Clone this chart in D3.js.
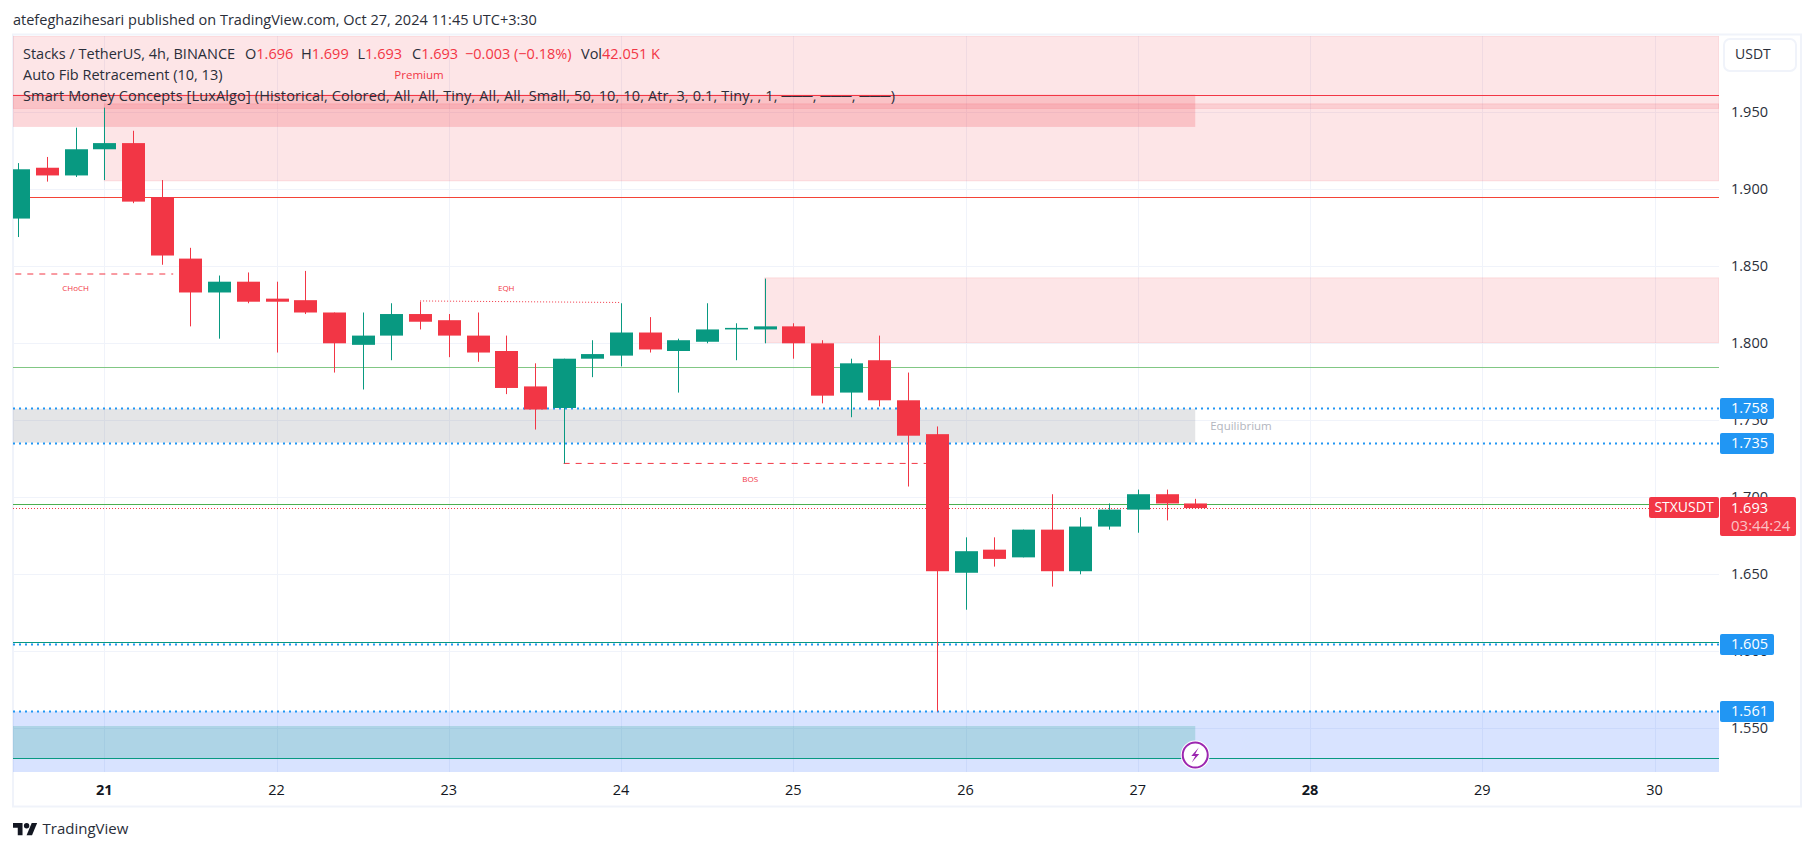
<!DOCTYPE html>
<html>
<head>
<meta charset="utf-8">
<script src="https://d3js.org/d3.v7.min.js"></script>
<style>
  html, body { margin: 0; background: #fff; overflow: hidden; }
  text { font-family: "Open Sans", sans-serif; }
</style>
</head>
<body>
<div id="chart"></div>
<script>
// candles, 4h. t = bars since Oct 21 00:00 (6 bars a day)
var barIdx = d3.range(-3, 39)
var opens  = [1.881,1.914,1.909,1.926,1.930,1.895,1.855,1.833,1.840,1.829,1.828,1.820,1.799,1.805,1.819,1.815,1.805,1.795,1.772,1.758,1.790,1.792,1.807,1.795,1.801,1.809,1.809,1.811,1.800,1.768,1.789,1.763,1.741,1.651,1.666,1.661,1.679,1.652,1.681,1.692,1.702,1.696]
var highs  = [1.917,1.921,1.940,1.953,1.938,1.906,1.862,1.844,1.846,1.840,1.847,1.820,1.820,1.826,1.827,1.819,1.820,1.805,1.787,1.790,1.802,1.826,1.817,1.803,1.826,1.813,1.842,1.813,1.802,1.790,1.805,1.781,1.746,1.674,1.674,1.679,1.702,1.687,1.696,1.705,1.705,1.699]
var lows   = [1.869,1.905,1.908,1.906,1.891,1.851,1.811,1.803,1.826,1.794,1.819,1.781,1.770,1.789,1.809,1.791,1.788,1.767,1.744,1.722,1.778,1.785,1.794,1.768,1.800,1.789,1.800,1.790,1.761,1.752,1.759,1.707,1.561,1.627,1.655,1.661,1.642,1.650,1.679,1.677,1.685,1.693]
var closes = [1.913,1.909,1.926,1.930,1.892,1.857,1.833,1.840,1.827,1.827,1.820,1.800,1.805,1.819,1.814,1.805,1.794,1.771,1.757,1.790,1.793,1.807,1.796,1.802,1.809,1.810,1.811,1.800,1.766,1.787,1.763,1.740,1.652,1.665,1.660,1.679,1.652,1.681,1.692,1.702,1.696,1.693]

var dayTicks = [21,22,23,24,25,26,27,28,29,30]
var boldDays = [21,28]
var priceTicks = [1.95,1.9,1.85,1.8,1.75,1.7,1.65,1.6,1.55]

// smart money levels (prices)
var premiumTop = 1.9995, premiumBottom = 1.9525
var obTop = 1.9555, obBottom = 1.9055
var obBoxTop = 1.9615, obBoxBottom = 1.9405
var ob2Top = 1.8425, ob2Bottom = 1.8005
var eqTop = 1.7575, eqBottom = 1.7355
var discTop = 1.561, discBottom = 1.5205
var dmdTop = 1.5515, dmdBottom = 1.5305
var boxEndBar = 38 // shaded boxes stop at the last candle

var fibLevels = [1.758,1.735,1.605,1.561]
var solidLines = [
  {p: 1.9615, c: '#f23645'},
  {p: 1.895, c: '#f44336'},
  {p: 1.7845, c: '#81c784'},
  {p: 1.6955, c: '#4caf50'},
  {p: 1.606, c: '#089981'},
  {p: 1.5305, c: '#089981'}
]
var lastPrice = 1.693

var legendTitle = 'Stacks / TetherUS, 4h, BINANCE'
var legendOHLC = [['O','1.696',245],['H','1.699',301],['L','1.693',357.5],['C','1.693',412]]
var legendChange = '−0.003 (−0.18%)'
var legendVol = '42.051 K'
var legendFib = 'Auto Fib Retracement (10, 13)'
var legendSmc = 'Smart Money Concepts [LuxAlgo] (Historical, Colored, All, All, Tiny, All, All, Small, 50, 10, 10, Atr, 3, 0.1, Tiny, , 1, ───, ───, ───)'

var W = 1814, H = 851
var plot = {left: 13, right: 1719, top: 36, bottom: 772}

var svg = d3.select('#chart').append('svg').attr('width', W).attr('height', H)
  .style('display', 'block')

// y: 1.700 sits at 497.3, 77px per 0.05
var y = d3.scaleLinear().domain([1.7, 1.5]).range([497.3, 805.3])
// x in bars, 28.71px each, bar 0 (Oct 21) at 104.3
var x = d3.scaleLinear().domain([0, 54]).range([104.3, 1654.6])

svg.append('clipPath').attr('id', 'plotclip').append('rect')
  .attr('x', plot.left).attr('y', plot.top)
  .attr('width', plot.right - plot.left).attr('height', plot.bottom - plot.top)

// outer frame
var frame = '#f0f3fa'
svg.append('rect').attr('x', 13).attr('y', 34.5).attr('width', 1788).attr('height', 772)
  .attr('fill', 'none').attr('stroke', frame).attr('stroke-width', 2)

var g = svg.append('g').attr('clip-path', 'url(#plotclip)')

// grid
g.selectAll('.hg').data(priceTicks).join('line').attr('class', 'hg')
  .attr('x1', plot.left).attr('x2', plot.right)
  .attr('y1', d => Math.round(y(d)) + .5).attr('y2', d => Math.round(y(d)) + .5)
  .attr('stroke', frame)
g.selectAll('.vg').data(dayTicks).join('line').attr('class', 'vg')
  .attr('x1', d => Math.round(x((d - 21) * 6)) + .5).attr('x2', d => Math.round(x((d - 21) * 6)) + .5)
  .attr('y1', plot.top).attr('y2', plot.bottom)
  .attr('stroke', frame)

function zone(x0, x1, top, bottom, fill, op, stroke) {
  var r = g.append('rect')
    .attr('x', x0).attr('width', x1 - x0)
    .attr('y', y(top)).attr('height', y(bottom) - y(top))
    .attr('fill', fill).attr('fill-opacity', op)
  if (stroke) r.attr('stroke', stroke).attr('stroke-opacity', .12)
  return r
}
var red = '#f23645', green = '#089981', blue = '#2196f3'

zone(plot.left, plot.right, premiumTop, premiumBottom, red, .13, red)
zone(x(0), plot.right, obTop, obBottom, red, .13, red)
zone(plot.left, x(boxEndBar), obBoxTop, obBoxBottom, red, .2)
zone(x(23), plot.right, ob2Top, ob2Bottom, red, .13, red)
zone(plot.left, x(boxEndBar), eqTop, eqBottom, '#787b86', .2)
zone(plot.left, plot.right, discTop, discBottom, '#2962ff', .18)
zone(plot.left, x(boxEndBar), dmdTop, dmdBottom, '#089981', .2)

// levels
solidLines.forEach(function(l) {
  g.append('line').attr('x1', plot.left).attr('x2', plot.right)
    .attr('y1', Math.round(y(l.p)) + .5).attr('y2', Math.round(y(l.p)) + .5)
    .attr('stroke', l.c)
})
g.selectAll('.fib').data(fibLevels).join('line').attr('class', 'fib')
  .attr('x1', plot.left).attr('x2', plot.right)
  .attr('y1', d => Math.round(y(d)) + .5).attr('y2', d => Math.round(y(d)) + .5)
  .attr('stroke', blue).attr('stroke-width', 2).attr('stroke-dasharray', '2 4')

g.append('line').attr('x1', plot.left).attr('x2', plot.right)
  .attr('y1', Math.round(y(lastPrice)) + .5).attr('y2', Math.round(y(lastPrice)) + .5)
  .attr('stroke', red).attr('stroke-dasharray', '1 2')

// structure labels
function struct(b0, b1, p0, p1, dash, label, tx, py) {
  g.append('line').attr('x1', x(b0)).attr('x2', x(b1))
    .attr('y1', y(p0)).attr('y2', y(p1))
    .attr('stroke', red).attr('stroke-dasharray', dash)
  g.append('text').attr('x', x(tx)).attr('y', y(py)).attr('dy', '.35em')
    .attr('text-anchor', 'middle').attr('font-size', 8).attr('fill', red).text(label)
}
struct(-3.1, 2.4, 1.845, 1.845, '6 6', 'CHoCH', -1, 1.836)
struct(11, 18, 1.8275, 1.8265, '1 2', 'EQH', 14, 1.836)
struct(16, 29, 1.722, 1.722, '6 6', 'BOS', 22.5, 1.712)

// candles
var candles = barIdx.map(function(b, i) {
  return {b: b, o: opens[i], h: highs[i], l: lows[i], c: closes[i]}
})
var col = d => d.c >= d.o ? green : red
var cg = g.selectAll('.c').data(candles).join('g').attr('class', 'c')
cg.append('line')
  .attr('x1', d => Math.round(x(d.b)) + .5).attr('x2', d => Math.round(x(d.b)) + .5)
  .attr('y1', d => y(d.h)).attr('y2', d => y(d.l))
  .attr('stroke', col)
cg.append('rect')
  .attr('x', d => Math.round(x(d.b)) - 11).attr('width', 23)
  .attr('y', d => y(Math.max(d.o, d.c)))
  .attr('height', d => Math.max(1, Math.abs(y(d.o) - y(d.c))))
  .attr('fill', col)

// zone labels
g.append('text').attr('x', 419).attr('y', 75).attr('dy', '.35em').attr('text-anchor', 'middle')
  .attr('font-size', 11.5).attr('fill', red).text('Premium')
g.append('text').attr('x', 1241).attr('y', 425.7).attr('dy', '.35em').attr('text-anchor', 'middle')
  .attr('font-size', 11.5).attr('fill', '#b2b5be').text('Equilibrium')

// flash icon
var ic = svg.append('g').attr('transform', 'translate(' + x(boxEndBar) + ',755)')
ic.append('circle').attr('r', 14.5).attr('fill', '#fff')
ic.append('circle').attr('r', 12.5).attr('fill', '#fff').attr('stroke', '#9c27b0').attr('stroke-width', 2)
ic.append('path').attr('d', 'M3.5-7.5-4 1H0L-3.5 7.5 4-1H0Z').attr('fill', '#9c27b0')

// price axis
var axisX = 1731, axisFont = 14.5
svg.selectAll('.pt').data(priceTicks).join('text').attr('class', 'pt')
  .attr('x', axisX).attr('y', d => y(d)).attr('dy', '.35em')
  .attr('font-size', axisFont).attr('fill', '#2a2e39').text(d => d3.format('.3f')(d))

svg.selectAll('.fl').data(fibLevels).join('g').attr('class', 'fl').each(function(d) {
  var s = d3.select(this)
  s.append('rect').attr('x', 1720).attr('y', Math.round(y(d)) - 10).attr('width', 54).attr('height', 21)
    .attr('rx', 2).attr('fill', blue)
  s.append('text').attr('x', axisX).attr('y', y(d)).attr('dy', '.35em')
    .attr('font-size', axisFont).attr('fill', '#fff').text(d3.format('.3f')(d))
})

svg.append('rect').attr('x', 1649).attr('y', 497).attr('width', 70).attr('height', 21)
  .attr('rx', 2).attr('fill', red)
svg.append('text').attr('x', 1684).attr('y', 507.5).attr('dy', '.35em').attr('text-anchor', 'middle')
  .attr('font-size', 14).attr('fill', '#fff').text('STXUSDT')
svg.append('rect').attr('x', 1720).attr('y', 497).attr('width', 76).attr('height', 39)
  .attr('rx', 2).attr('fill', red)
svg.append('text').attr('x', axisX).attr('y', 507.5).attr('dy', '.35em')
  .attr('font-size', axisFont).attr('fill', '#fff').text(d3.format('.3f')(lastPrice))
svg.append('text').attr('x', axisX).attr('y', 525.5).attr('dy', '.35em')
  .attr('font-size', 15).attr('fill', '#fff').attr('fill-opacity', .7).text('03:44:24')

svg.append('rect').attr('x', 1724).attr('y', 39).attr('width', 72).attr('height', 32)
  .attr('rx', 6).attr('fill', '#fff').attr('stroke', frame).attr('stroke-width', 2)
svg.append('text').attr('x', 1735).attr('y', 54).attr('dy', '.35em')
  .attr('font-size', 14).attr('fill', '#2a2e39').text('USDT')

// time axis
svg.selectAll('.dt').data(dayTicks).join('text').attr('class', 'dt')
  .attr('x', d => x((d - 21) * 6)).attr('y', 790).attr('dy', '.35em')
  .attr('text-anchor', 'middle').attr('font-size', 14.5).attr('fill', '#131722')
  .attr('font-weight', d => boldDays.includes(d) ? 700 : 400).text(d => d)

// header
svg.append('text').attr('x', 13).attr('y', 24.5).attr('font-size', 14.5)
  .attr('fill', '#2a2e39').text('atefeghazihesari published on TradingView.com, Oct 27, 2024 11:45 UTC+3:30')

// legend
var dark = '#2a2e39', legendFont = 14.5
var l1 = svg.append('text').attr('y', 53.7).attr('dy', '.35em').attr('font-size', legendFont).attr('fill', dark)
l1.append('tspan').attr('x', 23).text(legendTitle)
legendOHLC.forEach(function(d) {
  l1.append('tspan').attr('x', d[2]).text(d[0])
  l1.append('tspan').attr('fill', red).text(d[1])
})
l1.append('tspan').attr('x', 465).attr('fill', red).text(legendChange)
l1.append('tspan').attr('x', 581).text('Vol')
l1.append('tspan').attr('fill', red).text(legendVol)
svg.append('text').attr('x', 23).attr('y', 75).attr('dy', '.35em').attr('font-size', legendFont).attr('fill', dark).text(legendFib)
svg.append('text').attr('x', 23).attr('y', 96).attr('dy', '.35em').attr('font-size', legendFont).attr('fill', dark)
  .attr('letter-spacing', .14).text(legendSmc)

// logo
var logo = svg.append('g').attr('transform', 'translate(13,823) scale(.68)').attr('fill', '#131722')
logo.append('path').attr('d', 'M14 18H7V7H0V0h14Z')
logo.append('circle').attr('cx', 20).attr('cy', 4).attr('r', 4)
logo.append('path').attr('d', 'M28 18h-8L27.5 0h8Z')
svg.append('text').attr('x', 42.5).attr('y', 829).attr('dy', '.35em').attr('font-size', 15)
  .attr('fill', '#2a2e39').text('TradingView')
</script>
</body>
</html>
